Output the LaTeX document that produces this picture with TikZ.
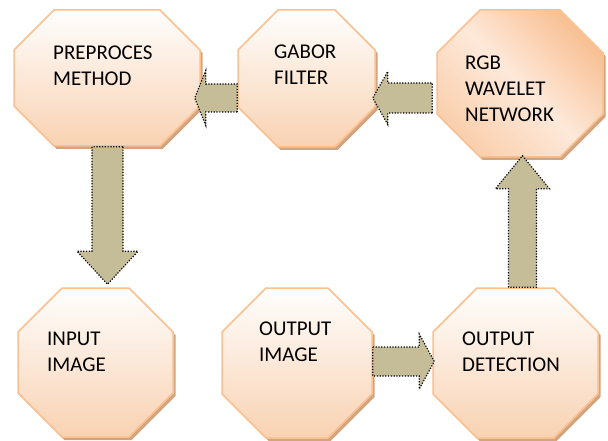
\documentclass[tikz,border=0pt]{standalone}
\usepackage{fontspec}
\setmainfont{Carlito}
\usetikzlibrary{shapes.misc, shadows, calc}

\definecolor{octline}{HTML}{FAC090}
\definecolor{octtop}{HTML}{FFFEFD}
\definecolor{octbottom}{HTML}{F9D2B2}
\definecolor{octdark}{HTML}{F8C094}
\definecolor{octlight}{HTML}{FDE9DA}
\definecolor{octmid}{HTML}{FAD0AE}
\definecolor{octshadow}{HTML}{D3A57F}
\definecolor{arrowtan}{HTML}{C4BD97}

\tikzset{
  % #1 x #2 is the box the corner cuts pass through, #3 half the cut
  stage/.style n args={3}{chamfered rectangle, chamfered rectangle sep=#3,
                inner sep=0pt, text width=#1, text height=#2, text depth=0pt,
                draw=octline, line width=1.5pt,
                top color=octtop, bottom color=octbottom,
                drop shadow={shadow xshift=2.5pt, shadow yshift=-3pt,
                             fill=octshadow, opacity=1}},
  stagetext/.style={anchor=north west, inner sep=0pt, align=left,
                    font=\fontsize{21}{26}\selectfont},
  arrowbody/.style={fill=arrowtan, draw=black, line width=1.2pt,
                    dash pattern=on 1.2pt off 1.6pt},
  % fat arrow: #1 half shaft width, #2 half head width, #3 head length
  blockarrow/.style n args={3}{
    to path={
      ($(\tikztostart)!#1!90:(\tikztotarget)$)
      -- ($($(\tikztotarget)!#3!(\tikztostart)$)!#1!-90:(\tikztostart)$)
      -- ($($(\tikztotarget)!#3!(\tikztostart)$)!#2!-90:(\tikztostart)$)
      -- (\tikztotarget)
      -- ($($(\tikztotarget)!#3!(\tikztostart)$)!#2!90:(\tikztostart)$)
      -- ($($(\tikztotarget)!#3!(\tikztostart)$)!#1!90:(\tikztostart)$)
      -- ($(\tikztostart)!#1!-90:(\tikztotarget)$)
      -- cycle}}
}

\begin{document}
\begin{tikzpicture}[x=1pt, y=-1pt]
    \useasboundingbox (0,0) rectangle (608,441);

    % The six stages
    \node[stage={146pt}{96pt}{20pt}]   (pre)    at (107,78)     {};
    \node[stage={97pt}{97pt}{20pt}]    (gab)    at (306.5,78.5) {};
    \node[stage={123pt}{104pt}{21.5pt},
          top color=octdark, bottom color=octmid, middle color=octlight,
          shading angle=-45] (rgb) at (520,83.5) {};
    \node[stage={111pt}{105pt}{22pt}]  (in)     at (95.5,362.5) {};
    \node[stage={106pt}{106pt}{22pt}]  (outimg) at (297,363)    {};
    \node[stage={121pt}{106pt}{22pt}]  (det)    at (515.5,363)  {};

    % Their labels
    \node[stagetext] (pretext)    at (53,46)  {PREPROCES\\METHOD};
    \node[stagetext] (gabtext)    at (274,45) {GABOR\\FILTER};
    \node[stagetext] (rgbtext)    at (465,56) {RGB\\WAVELET\\NETWORK};
    \node[stagetext] (intext)     at (47,332) {INPUT\\IMAGE};
    \node[stagetext] (outimgtext) at (259,322) {OUTPUT\\IMAGE};
    \node[stagetext] (dettext)    at (462,332) {OUTPUT\\DETECTION};

    % Flow between the stages
    \draw[arrowbody] ([yshift=-19.5pt]gab.west)
        to[blockarrow={14pt}{27.5pt}{11pt}] ([xshift=-6pt,yshift=-20pt]pre.east);
    \draw[arrowbody] ([xshift=-4pt,yshift=-14.5pt]rgb.west)
        to[blockarrow={15pt}{26.5pt}{15pt}] ([xshift=-3pt,yshift=-19.5pt]gab.east);
    \draw[arrowbody] ([xshift=0.5pt]pre.south)
        to[blockarrow={15.5pt}{30.5pt}{33pt}] ([xshift=12pt,yshift=3pt]in.north);
    \draw[arrowbody] ([xshift=7pt]det.north)
        to[blockarrow={14pt}{27pt}{33pt}] ([xshift=2.5pt,yshift=2pt]rgb.south);
    \draw[arrowbody] ([yshift=1.5pt]outimg.east)
        to[blockarrow={14.5pt}{27.5pt}{15pt}] ([xshift=2pt,yshift=1.5pt]det.west);
\end{tikzpicture}
\end{document}
